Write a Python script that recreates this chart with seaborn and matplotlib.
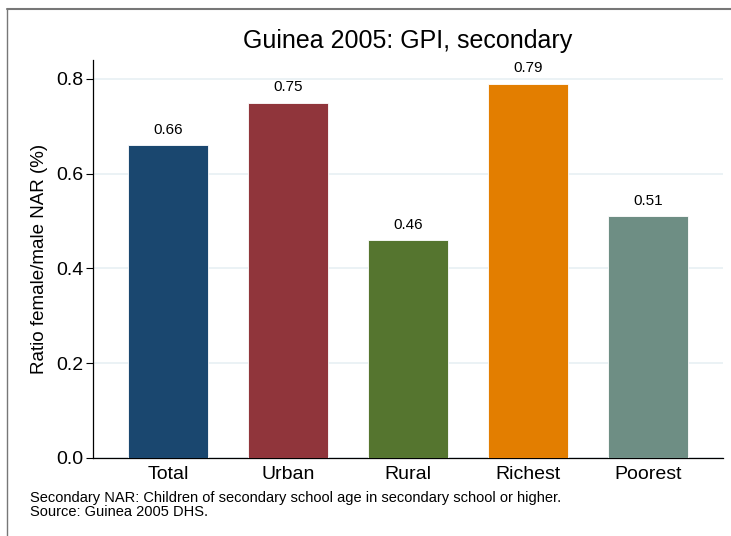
import matplotlib
matplotlib.use("Agg")
import matplotlib.pyplot as plt
import seaborn as sns
import pandas as pd
from matplotlib.lines import Line2D

# data
groups = ["Total", "Urban", "Rural", "Richest", "Poorest"]
gpi = [0.66, 0.75, 0.46, 0.79, 0.51]
bar_colors = ["#1a476f", "#90353b", "#55752f", "#e37e00", "#6e8e84"]
y_ticks = [0.0, 0.2, 0.4, 0.6, 0.8]

df = pd.DataFrame({"group": groups, "gpi": gpi})

sns.set_style("white")
plt.rcParams["font.family"] = ["Liberation Sans", "DejaVu Sans"]
plt.rcParams["text.color"] = "black"
plt.rcParams["axes.labelcolor"] = "black"
plt.rcParams["xtick.color"] = "black"
plt.rcParams["ytick.color"] = "black"

fig = plt.figure(figsize=(7.31, 5.36), dpi=100)
ax = fig.add_axes([93 / 731, 1 - 458 / 536, 630 / 731, 398 / 536])

sns.barplot(data=df, x="group", y="gpi", hue="group", palette=bar_colors,
            width=0.667, legend=False, ax=ax, saturation=1, zorder=3)
for p in ax.patches:
    p.set_edgecolor("white")
    p.set_linewidth(0.6)

for i, v in enumerate(gpi):
    ax.text(i, v + 0.018, f"{v:.2f}", ha="center", va="bottom", fontsize=11)

ax.set_xlim(-0.625, 4.625)
ax.set_ylim(0, 0.84)
ax.set_yticks(y_ticks)
ax.set_yticklabels([f"{t:.1f}" for t in y_ticks], fontsize=14)
ax.tick_params(axis="x", length=0, labelsize=14, pad=6)
ax.tick_params(axis="y", length=5, width=0.8, direction="out", pad=2, left=True)
ax.yaxis.grid(True, color="#e8f0f3", linewidth=1.2, zorder=0)
ax.set_axisbelow(True)
ax.set_xlabel("")
ax.set_ylabel("Ratio female/male NAR (%)", fontsize=13.5, labelpad=6)

for s in ["top", "right"]:
    ax.spines[s].set_visible(False)
for s in ["left", "bottom"]:
    ax.spines[s].set_color("black")
    ax.spines[s].set_linewidth(0.9)

fig.text(408 / 731, 1 - 48 / 536, "Guinea 2005: GPI, secondary",
         ha="center", va="baseline", fontsize=18)
fig.text(30 / 731, 1 - 502 / 536,
         "Secondary NAR: Children of secondary school age in secondary school or higher.",
         ha="left", va="baseline", fontsize=10.5)
fig.text(30 / 731, 1 - 516 / 536, "Source: Guinea 2005 DHS.",
         ha="left", va="baseline", fontsize=10.5)

# outer frame (top and left edges visible in the reference)
fig.add_artist(Line2D([7 / 731, 1], [1 - 8.5 / 536, 1 - 8.5 / 536],
                      transform=fig.transFigure, color="#777777", linewidth=1.5))
fig.add_artist(Line2D([7 / 731, 7 / 731], [0, 1 - 8.5 / 536],
                      transform=fig.transFigure, color="#777777", linewidth=1.0))

fig.savefig("out.png", dpi=100)
